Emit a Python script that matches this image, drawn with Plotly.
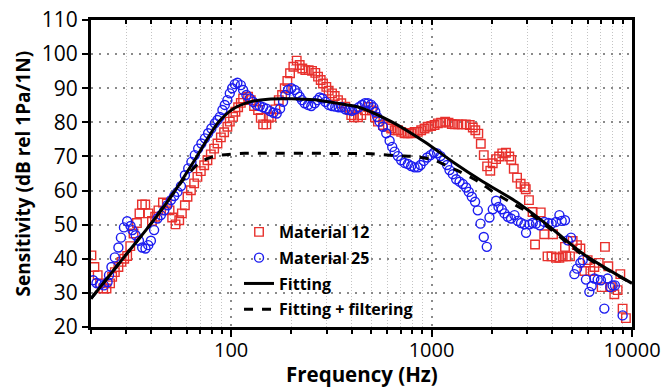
import plotly.graph_objects as go

# Material 12 (red squares)
m12_freq = [20.1, 20.8, 21.6, 22.2, 23.0, 23.9, 24.9, 25.5, 26.3, 27.4, 28.4, 29.3, 30.3, 31.4, 32.6,
            33.9, 34.9, 35.9, 37.3, 38.7, 40.3, 41.8, 43.4, 45.7, 47.8, 49.3, 50.8, 52.8, 55.1, 56.8,
            58.8, 60.6, 63.0, 65.4, 67.9, 70.6, 73.4, 76.2, 79.2, 82.3, 85.5, 88.9, 92.3, 95.8, 98.5,
            102.3, 105.1, 108.4, 111.8, 114.8, 121.5, 125.3, 130.2, 136.3, 140.6, 144.4, 149.9, 154.1,
            158.8, 166.3, 172.9, 179.6, 185.2, 190.8, 196.8, 204.4, 212.5, 219.9, 226.6, 234.5, 243.8,
            253.3, 263.0, 271.4, 279.9, 287.4, 298.5, 306.8, 318.7, 328.7, 341.4, 354.5, 371.2, 390.4,
            397.6, 410.2, 429.4, 446.0, 465.4, 484.4, 504.2, 521.9, 540.1, 572.1, 605.9, 629.2, 654.3,
            679.5, 705.6, 733.7, 762.0, 791.4, 822.8, 854.5, 887.5, 922.7, 958.5, 995.4, 1035, 1075,
            1116, 1169, 1215, 1262, 1307, 1360, 1416, 1482, 1551, 1606, 1653, 1711, 1761, 1822, 1893,
            1963, 2020, 2098, 2172, 2253, 2351, 2442, 2498, 2571, 2670, 2783, 2910, 2951, 3061, 3190,
            3283, 3505, 3648, 3789, 3967, 4036, 4177, 4344, 4511, 4632, 4696, 4905, 5058, 5315, 5526,
            5785, 6009, 6198, 6490, 6818, 7056, 7328, 7618, 7849, 8162, 8478, 8744, 8978, 9324]
m12_val = [41.0, 37.6, 35.2, 32.8, 31.3, 31.3, 32.8, 34.7, 36.1, 37.6, 39.1, 40.0, 40.8, 43.7, 47.4,
           50.5, 53.3, 55.9, 55.9, 53.3, 51.1, 52.3, 54.2, 56.5, 56.2, 54.2, 52.1, 50.1, 51.3, 53.3,
           55.7, 58.2, 60.1, 62.1, 64.0, 65.7, 67.4, 68.9, 70.6, 72.3, 73.8, 75.6, 77.1, 78.7, 80.2,
           81.6, 83.1, 84.4, 85.7, 87.0, 87.5, 86.5, 84.8, 83.6, 81.3, 79.4, 79.4, 81.3,
           81.6, 83.8, 86.5, 88.0, 90.0, 92.1, 94.4, 96.3, 98.1, 96.8, 95.8, 95.3, 95.3,
           95.1, 94.5, 93.4, 92.4, 91.4, 90.4, 89.3, 88.5, 87.7, 86.5, 85.6, 84.6, 83.6,
           82.1, 81.5, 81.5, 82.1, 83.5, 84.5, 83.5, 81.5, 80.2, 79.2, 78.7, 78.2, 77.7,
           77.7, 77.2, 76.8, 76.8, 76.8, 77.2, 77.2, 77.7, 78.2, 78.7, 78.9, 79.2, 79.7,
           79.9, 80.2, 79.9, 79.5, 79.4, 79.4, 79.4, 79.4, 79.2, 78.5, 77.7, 76.7, 73.7, 70.4, 67.1,
           65.8, 68.0, 69.2, 70.0, 70.9, 71.1, 70.0, 69.0, 66.4, 63.8, 62.0, 61.0, 60.4, 57.2, 53.7,
           44.2, 53.6, 47.2, 40.7, 40.7, 47.2, 40.3, 40.3, 40.7, 43.5, 40.7, 40.7, 45.2, 44.0, 43.0,
           36.4, 39.6, 36.4, 37.6, 38.8, 31.7, 43.5, 37.8, 31.7, 29.6, 30.8, 35.5, 25.4, 22.6]

# Material 25 (blue circles)
m25_freq = [20.5, 21.3, 22.2, 23.2, 24.2, 24.6, 25.3, 26.3, 27.4, 28.2, 29.2, 30.3, 31.5, 32.2, 33.4,
            34.7, 36.0, 37.4, 38.6, 39.8, 41.3, 42.9, 44.6, 46.4, 48.1, 50.1, 52.0, 54.0, 56.2, 58.8,
            61.1, 63.4, 65.9, 68.5, 71.1, 74.0, 76.8, 79.7, 82.9, 85.5, 87.8, 90.5, 93.0, 95.8, 98.5,
            101.2, 104.3, 107.5, 111.8, 114.8, 119.2, 123.9, 128.7, 133.7, 139.0, 144.4, 150.3, 156.4,
            162.5, 168.9, 175.5, 181.6, 186.5, 192.3, 199.7, 207.7, 214.0, 219.9, 225.8, 232.9, 241.9,
            251.2, 261.2, 269.2, 276.7, 285.1, 295.1, 306.8, 318.7, 331.0, 344.1, 357.4, 371.2, 386.0,
            400.8, 416.2, 432.9, 449.6, 465.4, 481.6, 498.5, 512.9, 523.6, 535.8, 550.7, 572.1, 594.1,
            617.7, 636.4, 654.3, 679.5, 705.6, 733.7, 762.0, 791.4, 822.8, 854.5, 881.4, 915.3, 950.9,
            988.6, 1027, 1066, 1109, 1152, 1196, 1229, 1277, 1327, 1379, 1432, 1487, 1534, 1588, 1649,
            1701, 1755, 1822, 1886, 1945, 2020, 2098, 2158, 2240, 2311, 2400, 2492, 2592, 2692, 2796,
            2907, 2961, 3079, 3197, 3320, 3464, 3656, 3828, 3975, 4177, 4344, 4460, 4632, 4777, 4962,
            5159, 5315, 5526, 5674, 5893, 6127, 6292, 6490, 6740, 6999, 7278, 7556, 7795, 8004, 8218,
            8978]
m25_val = [33.7, 32.9, 32.5, 32.2, 33.2, 35.2, 37.6, 40.4, 43.3, 46.2, 49.2, 51.0, 49.6, 48.4, 46.9,
           45.3, 43.3, 43.0, 44.0, 45.3, 48.4, 51.8, 52.8, 54.2, 55.7, 57.2, 58.4, 59.6, 61.3, 64.5,
           66.5, 68.4, 70.4, 72.3, 73.8, 75.3, 76.8, 78.2, 79.7, 80.7, 81.6, 83.6, 85.1, 86.5, 88.5,
           90.0, 91.2, 91.6, 90.9, 89.5, 88.0, 87.0, 86.0, 85.1, 84.8, 84.4, 84.0, 83.3,
           82.8, 82.6, 84.0, 86.0, 88.0, 89.5, 90.0, 89.5, 88.5, 87.5, 86.5, 85.6, 85.1,
           84.8, 85.6, 86.5, 87.3, 87.0, 86.0, 85.1, 84.8, 84.6, 84.4, 84.4, 83.8, 83.6,
           83.4, 83.8, 84.4, 85.1, 85.6, 85.6, 85.2, 84.4, 83.1, 81.6, 80.2, 78.7, 76.8,
           74.6, 72.8, 71.4, 70.1, 68.9, 68.1, 67.8, 67.2, 66.8, 66.8, 67.5, 68.7, 69.7,
           70.4, 71.1, 70.9, 70.1, 68.9, 67.5, 66.0, 64.8, 63.3, 62.6, 61.9, 60.9, 59.6, 58.2, 56.7,
           54.2, 50.3, 46.4, 43.5, 52.1, 54.5, 57.0, 55.2, 54.5, 53.3, 52.3, 51.8, 52.8, 51.1, 50.5,
           50.1, 47.6, 50.1, 50.5, 50.3, 49.8, 50.8, 50.5, 50.3, 50.8, 52.8, 51.1, 51.3, 45.4, 46.2,
           35.5, 37.1, 38.8, 39.6, 33.9, 30.3, 32.0, 34.2, 33.9, 33.7, 25.4, 34.2, 31.7, 32.2, 32.2,
           23.4]

# Fitting
fit_freq = [20, 30, 39.5, 52.6, 67.5, 86.4, 102.7, 124.4, 153, 200, 260, 330, 430, 630, 922, 1277,
            1806, 2650, 3882, 5690, 10000]
fit_val = [28.3, 41.3, 50.0, 60.0, 70.0, 80.0, 84.0, 86.0, 86.8, 86.9, 86.6, 85.7,
           84.5, 80.2, 74.3, 68.4, 62.6, 56.7, 49.4, 41.5, 32.8]

# Fitting + filtering
fitf_freq = [20, 30, 39.5, 52.6, 58.9, 70.1, 80, 89.9, 117, 150, 300, 500, 669, 841, 1035, 1215, 1332,
             1553, 1741, 2029, 2456, 3091, 4000, 5700, 10000]
fitf_val = [28.3, 41.3, 50.0, 60.0, 63.8, 68.3, 69.8, 70.4, 70.9, 70.9, 70.9, 70.8, 70.2, 69.9,
            68.9, 67.0, 66.0, 64.0, 62.4, 59.6, 56.7, 53.3, 48.3, 41.0, 32.8]

x_major = [100, 1000, 10000]
x_major_text = ["100", "1000", "10000"]
x_minor = [20, 30, 40, 50, 60, 70, 80, 90, 200, 300, 400, 500, 600, 700, 800, 900,
           2000, 3000, 4000, 5000, 6000, 7000, 8000, 9000]

FONT = "Open Sans"

fig = go.Figure()
fig.add_trace(go.Scatter(x=m12_freq, y=m12_val, mode="markers", name="Material 12", legendgroup="a",
                         marker=dict(symbol="square-open", size=8.5, color="#e8302c",
                                     line=dict(width=1.4, color="#e8302c"))))
fig.add_trace(go.Scatter(x=m25_freq, y=m25_val, mode="markers", name="Material 25", legendgroup="b",
                         marker=dict(symbol="circle-open", size=9, color="#1c1cf0",
                                     line=dict(width=1.4, color="#1c1cf0"))))
fig.add_trace(go.Scatter(x=fit_freq, y=fit_val, mode="lines", name="Fitting", legendgroup="c",
                         line=dict(color="black", width=3, shape="spline", smoothing=0.8)))
fig.add_trace(go.Scatter(x=fitf_freq, y=fitf_val, mode="lines", name="Fitting + filtering", legendgroup="d",
                         line=dict(color="black", width=3, dash="dash", shape="spline", smoothing=0.8)))
# invisible trace to carry the top axis
fig.add_trace(go.Scatter(x=[100], y=[50], xaxis="x2", mode="markers", showlegend=False,
                         marker=dict(opacity=0), hoverinfo="skip"))

fig.update_layout(
    width=668, height=388,
    margin=dict(l=91, r=36, t=20, b=61),
    paper_bgcolor="white", plot_bgcolor="white",
    font=dict(family=FONT, color="black"),
    showlegend=True,
    legend=dict(x=0.2736, y=0.365, xanchor="left", yanchor="top", tracegroupgap=2,
                bgcolor="rgba(0,0,0,0)", font=dict(family=FONT, size=16, color="black", weight="bold")),
    xaxis=dict(type="log", range=[1.30103, 4], tickmode="array", tickvals=x_major, ticktext=x_major_text,
               ticks="outside", ticklen=7, tickwidth=2, tickcolor="black", ticklabelstandoff=-4,
               showline=True, linewidth=3, linecolor="black", mirror=True,
               showgrid=True, gridcolor="#8a8a8a", griddash="2px,6px", gridwidth=1.5,
               tickfont=dict(family=FONT, size=20, color="black"),
               minor=dict(tickmode="array", tickvals=x_minor, ticks="outside", ticklen=4, tickwidth=2,
                          tickcolor="black", showgrid=True, gridcolor="#c4c4c4", griddash="1px,2px", gridwidth=1),
               zeroline=False, automargin=False),
    xaxis2=dict(type="log", range=[1.30103, 4], overlaying="x", side="top", anchor="y",
                tickmode="array", tickvals=x_major, showticklabels=False,
                ticks="inside", ticklen=5, tickwidth=2, tickcolor="black", showgrid=False,
                minor=dict(tickmode="array", tickvals=x_minor, ticks="inside", ticklen=4, tickwidth=2,
                           tickcolor="black", showgrid=False), automargin=False),
    yaxis=dict(range=[20, 110], dtick=10, tick0=20, ticks="outside", ticklen=6, tickwidth=2, tickcolor="black",
               showline=True, linewidth=3, linecolor="black", mirror=True,
               showgrid=True, gridcolor="#8a8a8a", griddash="2px,6px", gridwidth=1.5,
               tickfont=dict(family=FONT, size=21, color="black"),
               zeroline=False, automargin=False),
    annotations=[
        dict(text="Frequency (Hz)", xref="paper", yref="paper", x=0.5, y=-0.152,
             xanchor="center", yanchor="middle", showarrow=False,
             font=dict(family=FONT, size=20.5, color="black", weight="bold")),
        dict(text="Sensitivity (dB rel 1Pa/1N)", xref="paper", yref="paper", x=-0.1257, y=0.5,
             xanchor="center", yanchor="middle", textangle=-90, showarrow=False,
             font=dict(family=FONT, size=19, color="black", weight="bold")),
    ],
)

fig.write_html("out.html", config={"displayModeBar": False},
               post_script="document.body.style.margin='0';")
